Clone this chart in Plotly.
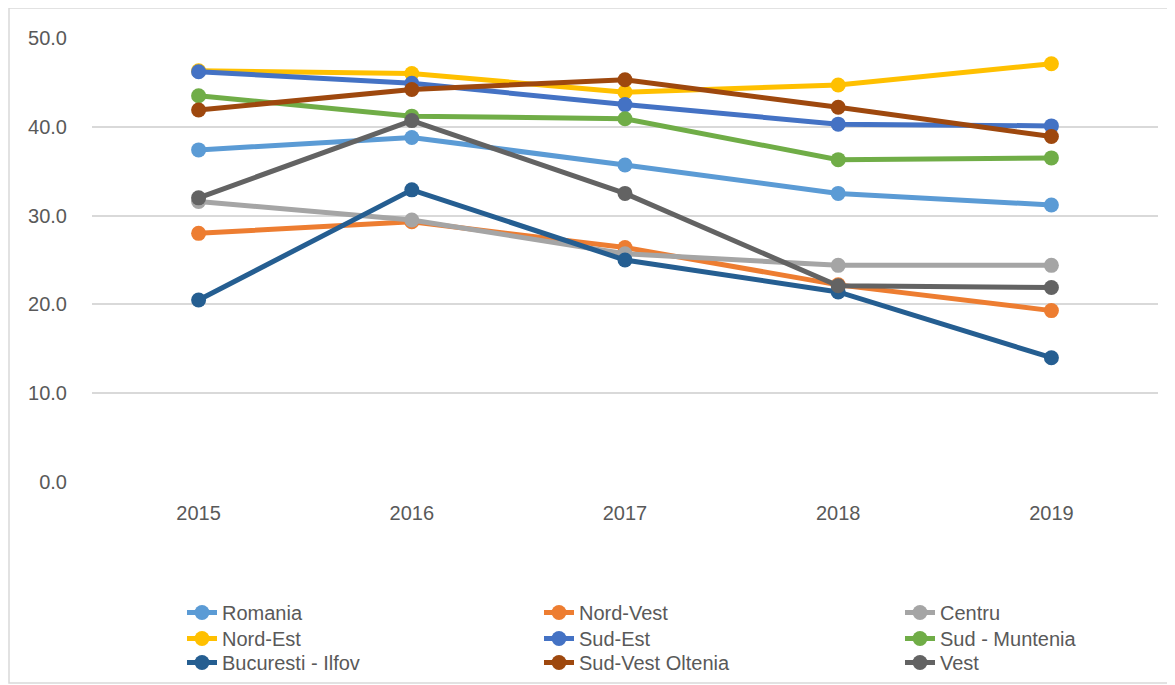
import plotly.graph_objects as go

years = ["2015", "2016", "2017", "2018", "2019"]

romania = [37.4, 38.8, 35.7, 32.5, 31.2]
nord_vest = [28.0, 29.3, 26.4, 22.2, 19.3]
centru = [31.6, 29.5, 25.7, 24.4, 24.4]
nord_est = [46.3, 46.0, 43.9, 44.7, 47.1]
sud_est = [46.2, 44.9, 42.5, 40.3, 40.1]
sud_muntenia = [43.5, 41.2, 40.9, 36.3, 36.5]
bucuresti_ilfov = [20.5, 32.9, 25.0, 21.4, 14.0]
sud_vest_oltenia = [41.9, 44.2, 45.3, 42.2, 38.9]
vest = [32.0, 40.7, 32.5, 22.1, 21.9]

series_names = ["Romania", "Nord-Vest", "Centru", "Nord-Est", "Sud-Est",
                "Sud - Muntenia", "Bucuresti - Ilfov", "Sud-Vest Oltenia", "Vest"]
series_values = [romania, nord_vest, centru, nord_est, sud_est,
                 sud_muntenia, bucuresti_ilfov, sud_vest_oltenia, vest]
series_colors = ["#5B9BD5", "#ED7D31", "#A5A5A5", "#FFC000", "#4472C4",
                 "#70AD47", "#255E91", "#9E480E", "#636363"]

# figure is placed 8px in from page corner (body margin)
W, H = 1167, 677
L, R, T, B = 84, 17, 30, 203
PW, PH = W - L - R, H - T - B

fig = go.Figure()
legend_layout = {}
col_left_px = [174, 531, 892]        # legend box left edges in figure px
row_top_px = [585, 611, 635]         # legend box top edges in figure px
text_color = "#595959"
for i, (name, vals, color) in enumerate(zip(series_names, series_values, series_colors)):
    key = "legend" if i == 0 else f"legend{i + 1}"
    fig.add_trace(go.Scatter(
        x=years, y=vals, name=name, mode="lines+markers",
        line=dict(color=color, width=5),
        marker=dict(color=color, size=15),
        legend=key,
    ))
    row, col = divmod(i, 3)
    legend_layout[key] = dict(
        x=(col_left_px[col] - L) / PW,
        y=(H - B - row_top_px[row]) / PH,
        xanchor="left", yanchor="top",
        font=dict(size=20, color=text_color),
        bgcolor="rgba(0,0,0,0)",
    )

font_family = "Liberation Sans, Arial, sans-serif"

fig.update_layout(
    width=W, height=H,
    margin=dict(l=L, r=R, t=T, b=B, autoexpand=False),
    plot_bgcolor="white", paper_bgcolor="white",
    font=dict(family=font_family, size=20, color=text_color),
    showlegend=True,
    xaxis=dict(
        type="category", range=[-0.5, len(years) - 0.5],
        showgrid=False, showline=False, zeroline=False,
        ticks="", tickfont=dict(size=20, color=text_color),
        ticklabelstandoff=17,
    ),
    yaxis=dict(
        range=[0, 50], dtick=10, tickformat=".1f",
        showgrid=True, gridcolor="#D9D9D9", gridwidth=1.5,
        zeroline=False, showline=False, ticks="",
        tickfont=dict(size=20, color=text_color),
        ticklabelstandoff=24,
    ),
    shapes=[dict(
        type="rect", xref="paper", yref="paper",
        x0=(1 - L) / PW, x1=(W + 20 - L) / PW,
        y0=(H - B - 675) / PH, y1=(H - B - 0) / PH,
        line=dict(color="#D9D9D9", width=1.5), layer="below",
    )],
    **legend_layout,
)

fig.write_html("out.html")
